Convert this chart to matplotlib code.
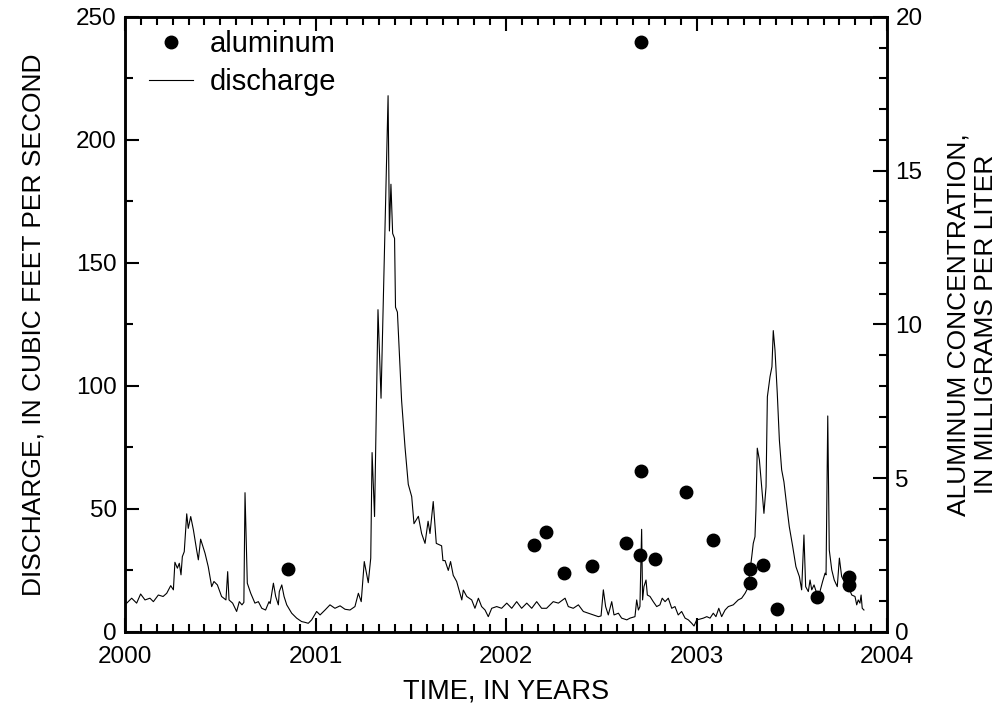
import matplotlib
matplotlib.use("Agg")
import matplotlib.pyplot as plt
from matplotlib.ticker import MultipleLocator

plt.rcParams["font.family"] = ["Liberation Sans", "DejaVu Sans"]

# Daily discharge (decimal year, cubic feet per second)
dq_year = [
    2000.000, 2000.035, 2000.061, 2000.082, 2000.105, 2000.131, 2000.149, 2000.175,
    2000.200, 2000.219, 2000.240, 2000.254, 2000.262, 2000.275, 2000.285, 2000.294,
    2000.301, 2000.311, 2000.324, 2000.332, 2000.345, 2000.359, 2000.376, 2000.385,
    2000.397, 2000.420, 2000.437, 2000.455, 2000.467, 2000.485, 2000.507, 2000.530,
    2000.539, 2000.546, 2000.565, 2000.586, 2000.600, 2000.614, 2000.624, 2000.630,
    2000.642, 2000.660, 2000.682, 2000.700, 2000.718, 2000.738, 2000.756, 2000.762,
    2000.779, 2000.791, 2000.805, 2000.810, 2000.823, 2000.835, 2000.849, 2000.875,
    2000.901, 2000.927, 2000.944, 2000.962, 2000.980, 2001.006, 2001.024, 2001.050,
    2001.076, 2001.102, 2001.129, 2001.155, 2001.181, 2001.207, 2001.225, 2001.240,
    2001.256, 2001.277, 2001.290, 2001.297, 2001.310, 2001.328, 2001.344, 2001.381,
    2001.388, 2001.396, 2001.405, 2001.415, 2001.420, 2001.430, 2001.452, 2001.470,
    2001.487, 2001.505, 2001.517, 2001.540, 2001.557, 2001.575, 2001.591, 2001.601,
    2001.618, 2001.634, 2001.662, 2001.669, 2001.680, 2001.697, 2001.709, 2001.723,
    2001.741, 2001.768, 2001.776, 2001.794, 2001.820, 2001.837, 2001.855, 2001.872,
    2001.890, 2001.907, 2001.925, 2001.951, 2001.977, 2002.004, 2002.030, 2002.056,
    2002.082, 2002.109, 2002.135, 2002.161, 2002.187, 2002.213, 2002.248, 2002.275,
    2002.310, 2002.327, 2002.353, 2002.380, 2002.406, 2002.432, 2002.458, 2002.485,
    2002.499, 2002.511, 2002.523, 2002.537, 2002.555, 2002.567, 2002.590, 2002.607,
    2002.634, 2002.651, 2002.677, 2002.686, 2002.695, 2002.703, 2002.712, 2002.717,
    2002.724, 2002.735, 2002.742, 2002.756, 2002.773, 2002.791, 2002.808, 2002.820,
    2002.835, 2002.852, 2002.870, 2002.887, 2002.904, 2002.922, 2002.940, 2002.957,
    2002.975, 2002.987, 2003.001, 2003.018, 2003.036, 2003.054, 2003.071, 2003.088,
    2003.102, 2003.117, 2003.132, 2003.150, 2003.167, 2003.193, 2003.219, 2003.237,
    2003.255, 2003.269, 2003.277, 2003.290, 2003.298, 2003.307, 2003.312, 2003.319,
    2003.330, 2003.342, 2003.354, 2003.365, 2003.372, 2003.386, 2003.396, 2003.403,
    2003.412, 2003.424, 2003.435, 2003.447, 2003.459, 2003.474, 2003.487, 2003.505,
    2003.522, 2003.540, 2003.552, 2003.564, 2003.573, 2003.587, 2003.596, 2003.605,
    2003.617, 2003.631, 2003.648, 2003.662, 2003.675, 2003.680, 2003.689, 2003.697,
    2003.710, 2003.723, 2003.739, 2003.750, 2003.762, 2003.780, 2003.797, 2003.815,
    2003.832, 2003.841, 2003.849, 2003.858, 2003.864, 2003.870, 2003.879,
]
dq_cfs = [
    11.0, 13.7, 11.7, 15.4, 13.0, 13.7, 12.3, 15.0,
    14.4, 15.7, 18.8, 17.1, 28.3, 25.9, 27.9, 23.2,
    30.6, 32.6, 48.0, 42.1, 46.9, 41.5, 33.3, 29.3,
    37.7, 32.0, 26.5, 18.4, 20.5, 19.1, 14.4, 13.0,
    24.5, 13.0, 11.7, 8.3, 12.3, 11.0, 12.0, 56.6,
    19.8, 15.7, 11.7, 12.3, 9.6, 8.9, 12.3, 11.5,
    19.8, 14.4, 11.0, 16.4, 19.1, 14.4, 11.0, 7.6,
    5.6, 4.2, 3.9, 3.5, 4.9, 8.3, 6.9, 8.9,
    11.0, 9.6, 10.6, 9.2, 8.9, 10.3, 15.7, 12.3,
    28.6, 20.0, 30.0, 72.9, 46.9, 131.0, 95.0, 218.0,
    163.0, 182.0, 162.0, 160.0, 132.0, 130.0, 94.0, 75.0,
    60.0, 55.0, 44.0, 47.0, 40.0, 36.0, 45.0, 40.0,
    53.0, 36.0, 35.0, 29.0, 29.0, 25.0, 28.6, 23.0,
    20.5, 13.0, 17.0, 14.4, 13.0, 9.6, 13.7, 10.3,
    8.9, 6.2, 9.6, 10.3, 9.6, 11.7, 9.6, 12.3,
    9.6, 11.7, 9.6, 12.3, 9.6, 9.6, 12.3, 11.7,
    13.7, 10.3, 9.6, 11.0, 8.3, 7.6, 6.9, 6.2,
    6.5, 17.1, 10.3, 6.9, 12.3, 6.9, 7.6, 5.6,
    4.9, 5.6, 6.2, 13.0, 8.9, 10.3, 41.7, 13.0,
    18.4, 21.1, 15.0, 14.4, 12.3, 10.3, 11.0, 13.7,
    12.3, 13.7, 9.6, 10.3, 6.9, 8.3, 5.6, 4.9,
    3.5, 2.4, 4.9, 5.2, 5.6, 6.2, 5.6, 7.6,
    6.2, 9.6, 6.2, 8.9, 10.3, 11.0, 13.0, 13.7,
    15.7, 17.8, 22.5, 30.6, 36.0, 38.7, 49.6, 74.7,
    70.0, 59.0, 48.2, 59.0, 95.6, 103.8, 107.8, 122.5,
    114.6, 97.0, 78.0, 65.9, 61.0, 51.0, 42.8, 34.7,
    26.5, 22.5, 17.1, 39.4, 18.4, 16.4, 21.1, 17.1,
    19.1, 15.7, 16.4, 20.5, 23.9, 23.2, 87.8, 33.3,
    25.2, 21.1, 18.4, 30.0, 22.5, 19.8, 18.4, 15.0,
    14.4, 11.0, 13.0, 11.7, 15.0, 9.6, 8.9,
]

# Aluminum samples (decimal year, mg/L)
al_year = [
    2000.857, 2002.145, 2002.208, 2002.306, 2002.453, 2002.628, 2002.709,
    2002.711, 2002.705, 2002.782, 2002.945, 2003.085, 2003.279, 2003.283,
    2003.351, 2003.423, 2003.631, 2003.801, 2003.802,
]
al_conc = [
    2.05, 2.82, 3.25, 1.93, 2.15, 2.88, 19.18,
    5.24, 2.50, 2.38, 4.55, 2.98, 2.04, 1.59,
    2.16, 0.74, 1.12, 1.78, 1.52,
]

year_ticks = [2000, 2001, 2002, 2003, 2004]

fig = plt.figure(figsize=(10, 7.23), dpi=100)
ax = fig.add_axes([0.125, 0.126, 0.762, 0.8505])
ax2 = ax.twinx()

line, = ax.plot(dq_year, dq_cfs, color="black", lw=0.8, label="discharge")
dots, = ax2.plot(al_year, al_conc, "o", color="black", ms=9, label="aluminum")

ax.set_xlim(2000, 2004)
ax.set_ylim(0, 250)
ax2.set_ylim(0, 20)

ax.set_xticks(year_ticks)
ax.set_xticklabels([str(y) for y in year_ticks])
ax.xaxis.set_minor_locator(MultipleLocator(1 / 12))
ax.yaxis.set_major_locator(MultipleLocator(50))
ax.yaxis.set_minor_locator(MultipleLocator(25))
ax2.yaxis.set_major_locator(MultipleLocator(5))
ax2.yaxis.set_minor_locator(MultipleLocator(1))

ax.tick_params(which="both", direction="in", top=True, right=False, labelsize=17.5, width=1.5)
ax.tick_params(which="major", length=10, pad=6)
ax.tick_params(which="minor", length=6)
ax.tick_params(axis="x", which="major", pad=10)
ax2.tick_params(which="both", direction="in", labelsize=17.5, width=1.5)
ax2.tick_params(which="major", length=10, pad=6)
ax2.tick_params(which="minor", length=6)

for a in (ax, ax2):
    for s in a.spines.values():
        s.set_linewidth(1.8)

ax.set_xlabel("TIME, IN YEARS", fontsize=19.5, labelpad=8)
ax.set_ylabel("DISCHARGE, IN CUBIC FEET PER SECOND", fontsize=19, labelpad=22)
ax2.set_ylabel("ALUMINUM CONCENTRATION,\nIN MILLIGRAMS PER LITER", fontsize=19, labelpad=17)

ax.legend([dots, line], ["aluminum", "discharge"], loc="upper left",
          bbox_to_anchor=(-0.003, 1.022), frameon=False, fontsize=21,
          handlelength=1.5, handletextpad=0.6, labelspacing=0.35)

fig.savefig("out.png", dpi=100)
